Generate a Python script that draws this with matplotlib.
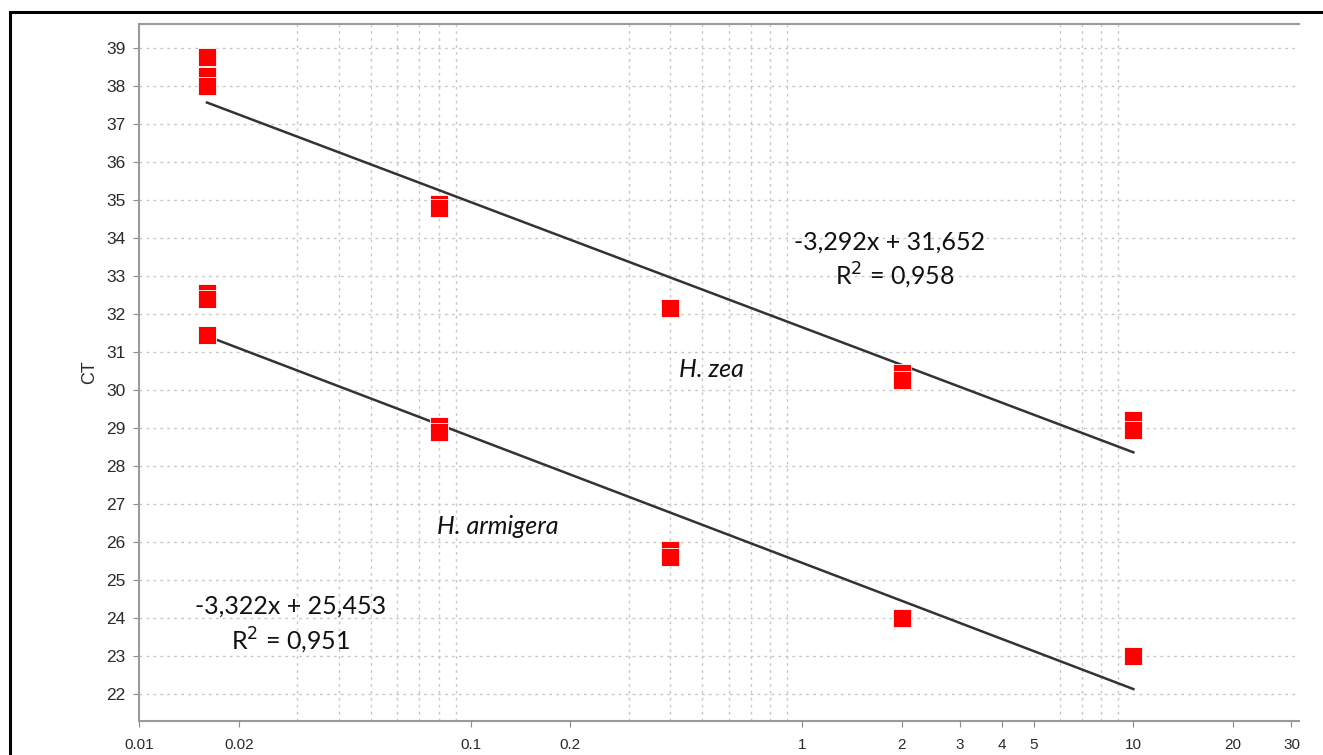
import numpy as np
import matplotlib.pyplot as plt
from matplotlib.patches import Rectangle
from matplotlib.ticker import FixedLocator, NullFormatter

# standard dilutions (x) and Ct replicates
zea_x = [0.016, 0.016, 0.016, 0.08, 0.08, 0.4, 2, 2, 10, 10]
zea_ct = [38.77, 38.25, 38.0, 34.9, 34.8, 32.15, 30.45, 30.25, 29.2, 28.95]

arm_x = [0.016, 0.016, 0.016, 0.08, 0.08, 0.4, 0.4, 2, 10]
arm_ct = [32.55, 32.4, 31.45, 29.05, 28.9, 25.8, 25.6, 24.0, 23.0]

# regression coefficients (slope, intercept, r2)
zea_fit = (-3.292, 31.652, 0.958)
arm_fit = (-3.322, 25.453, 0.951)
fit_range = (0.016, 10)

x_ticks = [0.01, 0.02, 0.1, 0.2, 1, 2, 3, 4, 5, 10, 20, 30]
x_labels = ['0.01', '0.02', '0.1', '0.2', '1', '2', '3', '4', '5', '10', '20', '30']
y_ticks = list(range(22, 40))

fig = plt.figure(figsize=(13.23, 7.55), dpi=100)
ax = fig.add_axes([0.1053, 0.045, 0.9819 - 0.1053, 0.9682 - 0.045])
ax.set_xscale('log')
ax.set_xlim(0.01, 10 ** 1.5)
ax.set_ylim(21.29, 39.63)

# grid: major y, every integer multiple on x
minor_x = [m * 10.0 ** e for e in range(-2, 2) for m in range(1, 10) if m * 10.0 ** e <= 31]
ax.xaxis.set_major_locator(FixedLocator(x_ticks))
ax.xaxis.set_minor_locator(FixedLocator(minor_x))
ax.xaxis.set_minor_formatter(NullFormatter())
ax.set_xticklabels(x_labels)
ax.set_yticks(y_ticks)
grid_kw = dict(color='#c8c8c8', linestyle=(0, (2, 3)), linewidth=1.0)
ax.grid(axis='y', which='major', **grid_kw)
ax.grid(axis='x', which='minor', **grid_kw)
ax.set_axisbelow(True)

for side in ['left', 'bottom', 'top']:
    ax.spines[side].set_color('#9a9a9a')
    ax.spines[side].set_linewidth(1.5)
ax.spines['right'].set_visible(False)
ax.tick_params(axis='both', which='major', length=4, color='#8a8a8a',
               labelcolor='#2a2a2a')
ax.tick_params(axis='x', which='minor', length=0)
ax.tick_params(axis='y', labelsize=12.5, pad=6)
ax.tick_params(axis='x', labelsize=11, pad=8)
for lab in ax.get_xticklabels():
    lab.set_family(['Liberation Sans Narrow', 'Liberation Sans', 'DejaVu Sans'])
for lab in ax.get_yticklabels():
    lab.set_family(['Liberation Sans', 'DejaVu Sans'])

# regression lines
xs = np.logspace(np.log10(fit_range[0]), np.log10(fit_range[1]), 50)
for slope, icpt, _ in (zea_fit, arm_fit):
    ax.plot(xs, slope * np.log10(xs) + icpt, color='#333333', linewidth=1.8, zorder=3)

# replicate points
mk = dict(linestyle='none', marker='s', markersize=13, markerfacecolor='#ff0000',
          markeredgecolor='white', markeredgewidth=0.6, zorder=4)
ax.plot(zea_x, zea_ct, **mk)
ax.plot(arm_x, arm_ct, **mk)

ax.set_ylabel('CT', fontsize=13, family='Liberation Sans', color='#2a2a2a', labelpad=6)

txt = dict(fontsize=18, family=['Lato', 'DejaVu Sans'], color='#111111',
           ha='center', va='center')
ax.text(1.84, 33.9, f'{zea_fit[0]:.3f}x + {zea_fit[1]:.3f}'.replace('.', ','), **txt)
ax.text(1.90, 33.0, f'R$^2$ = {zea_fit[2]:.3f}'.replace('.', ','), **txt)
ax.text(0.0287, 24.32, f'{arm_fit[0]:.3f}x + {arm_fit[1]:.3f}'.replace('.', ','), **txt)
ax.text(0.0285, 23.4, f'R$^2$ = {arm_fit[2]:.3f}'.replace('.', ','), **txt)
ax.text(0.533, 30.55, 'H. zea', style='italic', **txt)
ax.text(0.121, 26.4, 'H. armigera', style='italic', **txt)

# outer frame of the original figure (cut off at right and bottom)
fig.patches.append(Rectangle((10 / 1323, -0.05), 1.2, 1 - 12 / 755 + 0.05,
                             transform=fig.transFigure, fill=False,
                             edgecolor='black', linewidth=2.2))

fig.savefig('out.png', dpi=100)
